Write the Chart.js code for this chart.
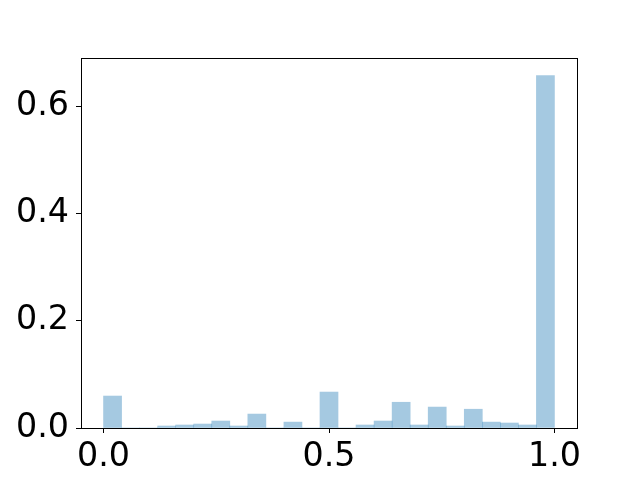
<!DOCTYPE html>
<html>
<head>
<meta charset="utf-8">
<script src="https://cdn.jsdelivr.net/npm/chart.js@4/dist/chart.umd.min.js"></script>
<style>
  html, body { margin: 0; padding: 0; background: #ffffff; }
  #wrap { width: 640px; height: 480px; }
</style>
</head>
<body>
<div id="wrap"><canvas id="c" width="640" height="480"></canvas></div>
<script>
// Histogram bin centres (bin width 0.04, 0..1)
const binCenters = [0.02, 0.06, 0.10, 0.14, 0.18, 0.22, 0.26, 0.30, 0.34, 0.38,
                    0.42, 0.46, 0.50, 0.54, 0.58, 0.62, 0.66, 0.70, 0.74, 0.78,
                    0.82, 0.86, 0.90, 0.94, 0.98];
// Bar heights (fraction)
const binValues = [0.0596, 0, 0, 0.0037, 0.0056, 0.0074, 0.013, 0.0037, 0.026, 0,
                   0.011, 0, 0.067, 0, 0.0056, 0.013, 0.048, 0.0056, 0.039, 0.0037,
                   0.035, 0.011, 0.0093, 0.0056, 0.657];
const xTicks = [0.0, 0.5, 1.0];
const yTicks = [0.0, 0.2, 0.4, 0.6];

const framePlugin = {
  id: 'frame',
  afterDatasetsDraw(chart) {
    const a = chart.chartArea, ctx = chart.ctx;
    ctx.save();
    ctx.strokeStyle = '#000000';
    ctx.lineWidth = 1;
    ctx.strokeRect(Math.round(a.left) + 0.5, Math.round(a.top) + 0.5,
                   Math.round(a.right - a.left), Math.round(a.bottom - a.top));
    ctx.restore();
  }
};

const font = { family: 'DejaVu Sans', size: 33.3 };

new Chart(document.getElementById('c'), {
  type: 'bar',
  data: {
    datasets: [{
      data: binCenters.map((c, i) => ({ x: c, y: binValues[i] })),
      backgroundColor: 'rgba(31,119,180,0.4)',
      borderWidth: 0,
      barPercentage: 1.0,
      categoryPercentage: 1.0
    }]
  },
  options: {
    responsive: false,
    animation: false,
    events: [],
    layout: { padding: { left: 0, top: 58, right: 63, bottom: 0 } },
    plugins: { legend: { display: false }, tooltip: { enabled: false } },
    scales: {
      x: {
        type: 'linear',
        min: -0.05,
        max: 1.05,
        offset: false,
        grid: { display: true, offset: false, drawOnChartArea: false, drawTicks: true,
                tickLength: 5, color: '#000000', lineWidth: 1 },
        border: { display: true, color: '#000000', width: 1 },
        afterBuildTicks: (s) => { s.ticks = xTicks.map(v => ({ value: v })); },
        afterFit: (s) => { s.height = 52; },
        ticks: {
          color: '#000000', font: font, padding: 4, maxRotation: 0, autoSkip: false,
          callback: (v) => Number(v).toFixed(1)
        }
      },
      y: {
        type: 'linear',
        min: 0,
        max: 0.6899,
        grid: { display: true, drawOnChartArea: false, drawTicks: true,
                tickLength: 5, color: '#000000', lineWidth: 1 },
        border: { display: true, color: '#000000', width: 1 },
        afterBuildTicks: (s) => { s.ticks = yTicks.map(v => ({ value: v })); },
        afterFit: (s) => { s.width = 81; },
        ticks: {
          color: '#000000', font: font, padding: 7, autoSkip: false,
          callback: (v) => Number(v).toFixed(1)
        }
      }
    }
  },
  plugins: [framePlugin]
});
</script>
</body>
</html>
